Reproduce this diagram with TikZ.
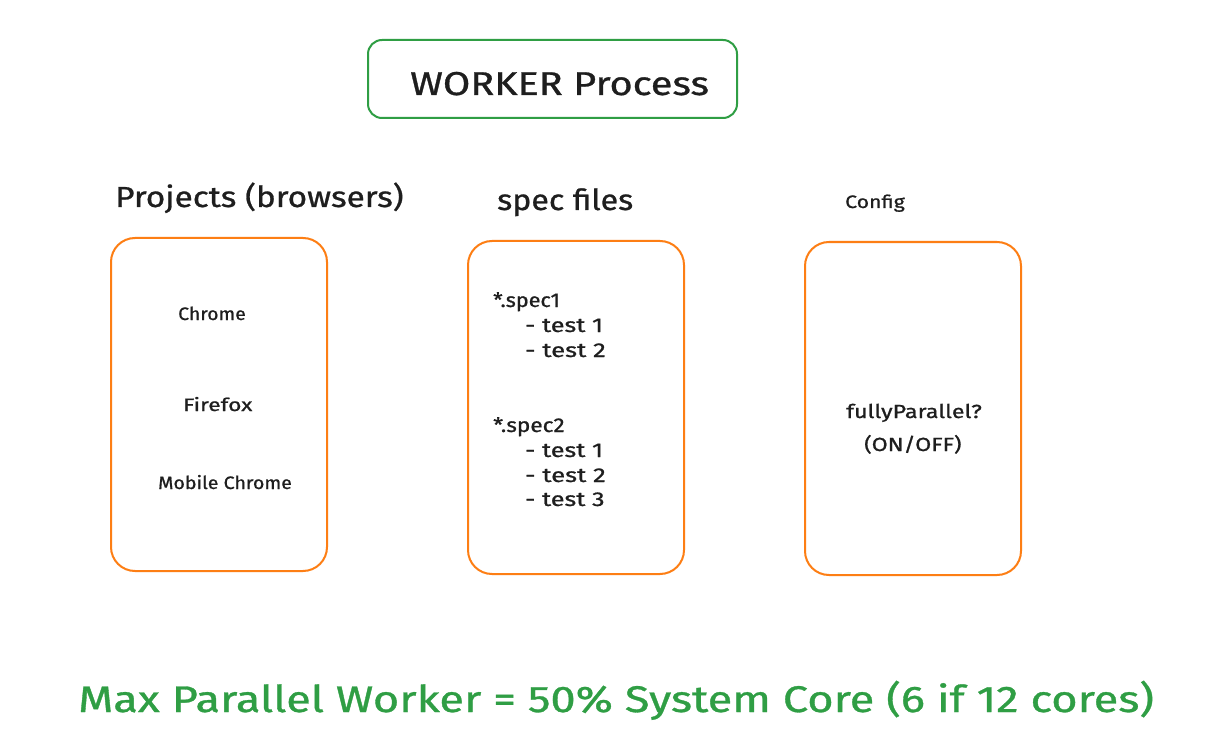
\documentclass[tikz,border=0pt]{standalone}
\usepackage{fontspec}
\usepackage{graphicx}
\setmainfont{Fira Sans}[FakeBold=0.8]
\definecolor{exgreen}{HTML}{2F9E44}
\definecolor{exorange}{HTML}{FD7E14}
\definecolor{exink}{HTML}{1E1E1E}
\newcommand{\hs}[2]{\scalebox{#1}[1]{#2}}
\begin{document}
\begin{tikzpicture}[x=1pt,y=-1pt,
  txt/.style={inner sep=0pt,anchor=base west,text=exink},
  greenbox/.style={draw=exgreen,line width=2pt,rounded corners=14pt},
  orangebox/.style={draw=exorange,line width=2pt,rounded corners=24pt}]
\useasboundingbox[fill=white] (0,0) rectangle (1210,754);
% title box
\draw[greenbox] (368,40) rectangle (737,118);
\node[txt,font=\fontsize{33}{36}\selectfont] (title) at (410,95) {\hs{1.20}{WORKER Process}};
% headings
\node[txt,font=\fontsize{29}{32}\selectfont] (hproj) at (115,207) {\hs{1.15}{Projects (browsers)}};
\node[txt,font=\fontsize{29}{32}\selectfont] (hspec) at (497,210) {\hs{1.11}{spec files}};
\node[txt,font=\fontsize{18}{20}\selectfont] (hconf) at (845,208) {\hs{1.18}{Config}};
% boxes
\draw[orangebox] (111,238) rectangle (327,571);
\draw[orangebox] (468,241) rectangle (684,574);
\draw[orangebox] (805,242) rectangle (1021,575);
% projects
\node[txt,font=\fontsize{18}{20}\selectfont] (chrome) at (178,320) {\hs{1.08}{Chrome}};
\node[txt,font=\fontsize{18}{20}\selectfont] (firefox) at (183,411) {\hs{1.27}{Firefox}};
\node[txt,font=\fontsize{18}{20}\selectfont] (mobile) at (158,489) {\hs{1.09}{Mobile Chrome}};
% spec files
\begin{scope}[every node/.style={txt,font=\fontsize{20}{22}\selectfont}]
\node (s1) at (493,307) {\hs{1.08}{*.spec1}};
\node (s1a) at (525,332) {\hs{1.26}{- test 1}};
\node (s1b) at (525,357) {\hs{1.28}{- test 2}};
\node (s2) at (493,432) {\hs{1.13}{*.spec2}};
\node (s2a) at (525,457) {\hs{1.26}{- test 1}};
\node (s2b) at (525,482) {\hs{1.28}{- test 2}};
\node (s2c) at (525,506) {\hs{1.26}{- test 3}};
\end{scope}
% config
\node[txt,font=\fontsize{19}{21}\selectfont] (fp) at (846,418) {\hs{1.23}{fullyParallel?}};
\node[txt,font=\fontsize{19}{21}\selectfont] (onoff) at (864,451) {\hs{1.22}{(ON/OFF)}};
% bottom
\node[txt,text=exgreen,font=\fontsize{37}{40}\selectfont] (maxw) at (78,712) {\hs{1.22}{Max Parallel Worker = 50\% System Core (6 if 12 cores)}};
\end{tikzpicture}
\end{document}
